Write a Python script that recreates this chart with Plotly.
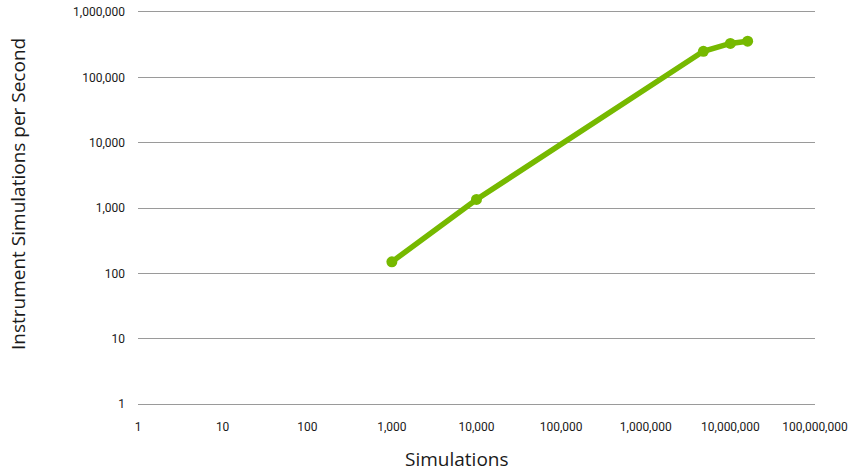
import plotly.graph_objects as go

simulations = [1000, 10000, 4800000, 10000000, 16000000]
rate_per_second = [150, 1350, 250000, 330000, 357000]

x_tickvals = [1, 10, 100, 1000, 10000, 100000, 1000000, 10000000, 100000000]
x_ticktext = ["1", "10", "100", "1,000", "10,000", "100,000", "1,000,000", "10,000,000", "100,000,000"]
y_tickvals = [1, 10, 100, 1000, 10000, 100000, 1000000]
y_ticktext = ["1", "10", "100", "1,000", "10,000", "100,000", "1,000,000"]

green = "#76b900"

W, H = 852, 473
L, R, T, B = 138, 37, 10, 67

fig = go.Figure()
fig.add_trace(go.Scatter(
    x=simulations, y=rate_per_second, mode="lines+markers",
    line=dict(color=green, width=5.5),
    marker=dict(color=green, size=11),
    showlegend=False, hoverinfo="skip",
))

fig.update_layout(
    width=W, height=H,
    margin=dict(l=L, r=R, t=T, b=B),
    paper_bgcolor="white", plot_bgcolor="white",
    font=dict(family="Roboto, sans-serif", color="#1a1a1a"),
    xaxis=dict(type="log", range=[0, 8], tickvals=x_tickvals, ticktext=x_ticktext,
               showgrid=False, zeroline=False, showline=False, ticks="",
               automargin=False,
               tickfont=dict(size=12, color="#1a1a1a"), ticklabelstandoff=12),
    yaxis=dict(type="log", range=[-0.03, 6.03], tickvals=y_tickvals, ticktext=y_ticktext,
               showgrid=True, gridcolor="#9a9a9a", gridwidth=1, zeroline=False,
               showline=False, ticks="", automargin=False,
               tickfont=dict(size=12, color="#1a1a1a"), ticklabelstandoff=12),
    annotations=[
        dict(text="Simulations", x=457, y=459, xref="paper", yref="paper",
             xanchor="center", yanchor="middle", showarrow=False,
             font=dict(family="Open Sans, sans-serif", size=19, color="#1a1a1a")),
        dict(text="Instrument Simulations per Second", x=18, y=194,
             xref="paper", yref="paper", textangle=-90, showarrow=False,
             xanchor="center", yanchor="middle",
             font=dict(family="Open Sans, sans-serif", size=19, color="#1a1a1a")),
    ],
)

pw = W - L - R
ph = H - T - B
for a in fig.layout.annotations:
    a.x = (a.x - L) / pw
    a.y = (H - B - a.y) / ph

fig.write_html("out.html", config={"displayModeBar": False},
               post_script="document.body.style.margin='0';document.body.style.overflow='hidden';")
